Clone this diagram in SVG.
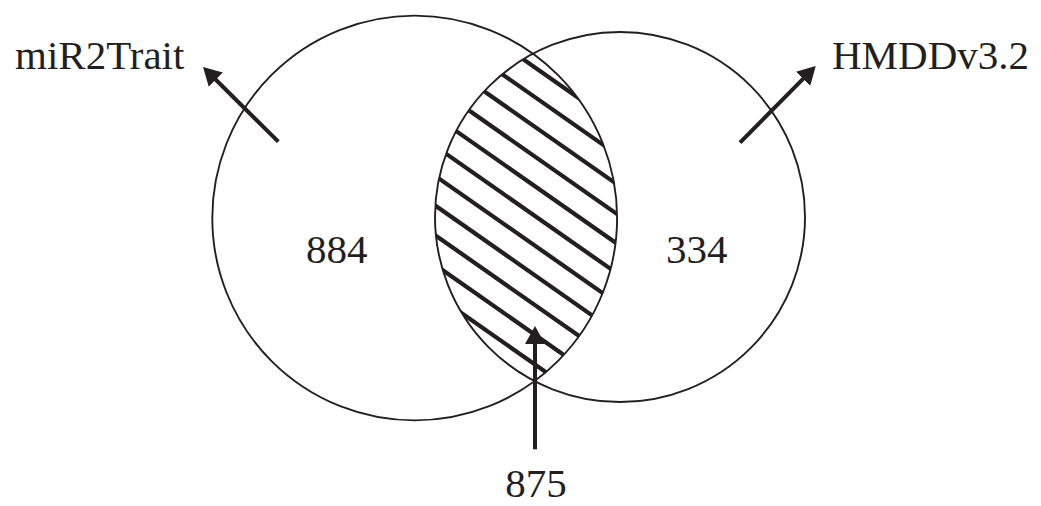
<svg xmlns="http://www.w3.org/2000/svg" width="1041" height="506" viewBox="0 0 1041 506">
<style>
.circ{fill:none;stroke:#231f20;stroke-width:1.9}
.hatch{stroke:#231f20;stroke-width:4.2;fill:none}
.arrow{stroke:#231f20;stroke-width:4;fill:none;marker-end:url(#ah)}
.lbl{font-family:"Liberation Serif","Times New Roman",serif;font-size:41px;fill:#231f20}
</style>
<defs>
<marker id="ah" markerUnits="userSpaceOnUse" markerWidth="20" markerHeight="22" viewBox="0 -11 20 22" refX="1" refY="0" orient="auto">
<path d="M0,-10 L18,0 L0,10 Z" fill="#231f20"/>
</marker>
<clipPath id="clipL"><circle cx="414.7" cy="218" r="202.4"/></clipPath>
<clipPath id="clipR"><circle cx="620" cy="217" r="185"/></clipPath>
</defs>
<g id="intersection">
<g clip-path="url(#clipL)"><g clip-path="url(#clipR)">
<line class="hatch" x1="420" y1="-13" x2="650" y2="148"/>
<line class="hatch" x1="420" y1="16.7" x2="650" y2="177.7"/>
<line class="hatch" x1="420" y1="46.4" x2="650" y2="207.4"/>
<line class="hatch" x1="420" y1="76.1" x2="650" y2="237.1"/>
<line class="hatch" x1="420" y1="105.8" x2="650" y2="266.8"/>
<line class="hatch" x1="420" y1="135.5" x2="650" y2="296.5"/>
<line class="hatch" x1="420" y1="165.2" x2="650" y2="326.2"/>
<line class="hatch" x1="420" y1="194.9" x2="650" y2="355.9"/>
<line class="hatch" x1="420" y1="224.6" x2="650" y2="385.6"/>
<line class="hatch" x1="420" y1="254.3" x2="650" y2="415.3"/>
<line class="hatch" x1="420" y1="284" x2="650" y2="445"/>
</g></g>
</g>
<g id="miR2Trait-set">
<circle class="circ" cx="414.7" cy="218" r="202.4"/>
<text class="lbl" x="306" y="263">884</text>
</g>
<g id="HMDDv3.2-set">
<circle class="circ" cx="620" cy="217" r="185"/>
<text class="lbl" x="666" y="263">334</text>
</g>
<g id="label-miR2Trait">
<text class="lbl" x="15" y="69">miR2Trait</text>
</g>
<g id="label-HMDD">
<text class="lbl" x="832" y="69">HMDDv3.2</text>
</g>
<g id="label-875">
<text class="lbl" x="536" y="497" text-anchor="middle">875</text>
</g>
<g id="connectors">
<line class="arrow" x1="278.3" y1="141.7" x2="215.1" y2="79"/>
<line class="arrow" x1="740" y1="142.7" x2="803.8" y2="78.1"/>
<line class="arrow" x1="535" y1="449.3" x2="535" y2="343"/>
</g>
</svg>
